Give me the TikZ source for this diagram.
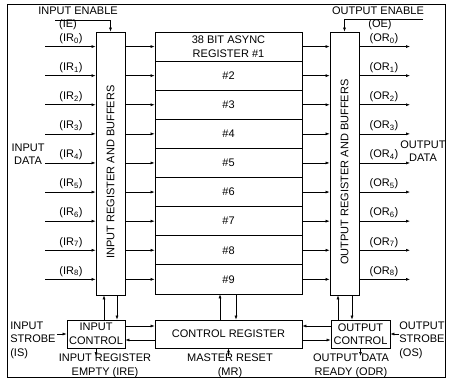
\documentclass[tikz,border=0pt]{standalone}
\usepackage{fontspec}
\setmainfont{Liberation Sans}
\usetikzlibrary{arrows.meta}
\tikzset{
 box/.style={draw,line width=0.8pt,inner sep=1pt,align=center},
 lbl/.style={inner sep=0pt,align=center},
}
\begin{document}
\begin{tikzpicture}[x=1pt,y=-1pt,font=\fontsize{11}{13.5}\selectfont,line width=0.6pt,>={Latex[length=4pt,width=3pt]}]
 \def\h{29.1}%row height
 \def\t{32}%top of the stack
 \useasboundingbox (0,0) rectangle (449,379);
 \draw[line width=1pt] (7,5) rectangle (445,377);
 % buffers
 \node[box,minimum width=29pt,minimum height=263pt] (inbuf) at (110.5,163.5) {};
 \node[box,minimum width=29pt,minimum height=263pt] (outbuf) at (344.5,163.5) {};
 \path ([yshift=-8.5pt]inbuf.center) node[rotate=90] {INPUT REGISTER AND BUFFERS}
 ([yshift=-8.5pt]outbuf.center) node[rotate=90] {OUTPUT REGISTER AND BUFFERS};
 % registers
 \node[box,minimum width=147pt,minimum height=\h pt] (reg1) at (228.5,\t+\h/2) {38 BIT ASYNC\\REGISTER \#1};
 \foreach \i in {2,...,9}
 \node[box,minimum width=147pt,minimum height=\h pt] (reg\i) at (228.5,\t+\h*\i-\h/2) {\#\i};
 % data lines
 \foreach \n [count=\i] in {0,...,8}{
 \coordinate (ir\i) at (45,\t+\h*\i-\h/2);
 \coordinate (or\i) at (410,\t+\h*\i-\h/2);
 \draw[->] (ir\i) -- (ir\i -| inbuf.west);
 \draw[->] (inbuf.east |- reg\i) -- (reg\i.west);
 \draw[->] (reg\i.east) -- (reg\i -| outbuf.west);
 \draw[->] (outbuf.east |- or\i) -- (or\i);
 \path ([shift={(26,-8)}]ir\i) node[lbl] {(IR\textsubscript{\n})}
 ([shift={(-26,-8)}]or\i) node[lbl] {(OR\textsubscript{\n})};
 }
 \node[lbl] (indata) at (28,154) {INPUT\\DATA};
 \node[lbl] (outdata) at (423,151) {OUTPUT\\DATA};
 % enables
 \node[lbl] (ietxt) at (78,11) {INPUT ENABLE};
 \node[lbl] at (68,25) {(IE)};
 \coordinate (ie) at (55,20);
 \draw[->] (ie) -| (inbuf.north);
 \node[lbl] (oetxt) at (378,11) {OUTPUT ENABLE};
 \node[lbl] at (380,25) {(OE)};
 \coordinate (oe) at (423,19);
 \draw[->] (oe) -| (outbuf.north);
 % control
 \node[box,minimum width=58pt,minimum height=28pt] (inctl) at (96,334) {INPUT\\CONTROL};
 \node[box,minimum width=147pt,minimum height=28pt] (ctlreg) at (228.5,334) {CONTROL REGISTER};
 \node[box,minimum width=59pt,minimum height=28pt] (outctl) at (360.5,334) {OUTPUT\\CONTROL};
 \foreach \a/\b/\c/\d in {inctl.north/8/inbuf.south/-6.5, inbuf.south/6.5/inctl.north/21,
 ctlreg.north/-8.5/reg9.south/-8.5, reg9.south/7.5/ctlreg.north/7.5,
 outctl.north/-22.5/outbuf.south/-6.5, outbuf.south/7.5/outctl.north/-8.5}
 \draw[->] ([xshift=\b pt]\a) -- ([xshift=\d pt]\c);
 \foreach \a/\b/\s in {inctl.east/ctlreg.west/8, ctlreg.west/inctl.east/-6,
 outctl.west/ctlreg.east/8, ctlreg.east/outctl.west/-6}
 \draw[->] ([yshift=\s pt]\a) -- ([yshift=\s pt]\b);
 % strobes and flags
 \node[lbl,align=left,anchor=west] (is) at (10,340) {INPUT\\STROBE\\(IS)};
 \coordinate (isin) at (57,334);
 \draw[->] (isin) -- (inctl.west);
 \node[lbl,align=left,anchor=west] (os) at (399,340) {OUTPUT\\STROBE\\(OS)};
 \coordinate (osin) at (399,334);
 \draw[->] (osin) -- (outctl.east);
 \node[lbl] (ire) at (105,366) {INPUT REGISTER\\EMPTY (IRE)};
 \coordinate (ireout) at (96,356);
 \draw[->] (inctl.south) -- (ireout);
 \node[lbl] (mr) at (230,366) {MASTER RESET\\(MR)};
 \coordinate (mrin) at (228.5,356);
 \draw[->] (mrin) -- (ctlreg.south);
 \node[lbl] (odr) at (351,366) {OUTPUT DATA\\READY (ODR)};
 \coordinate (odrout) at (360.5,356);
 \draw[->] (outctl.south) -- (odrout);
\end{tikzpicture}
\end{document}
